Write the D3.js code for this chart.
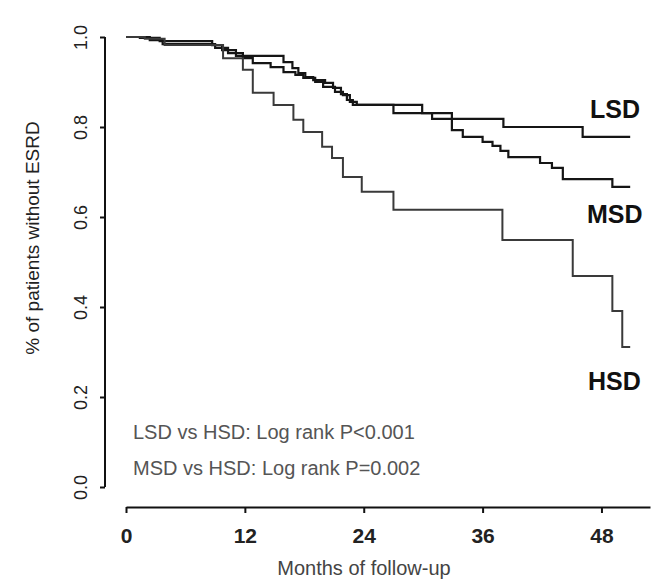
<!DOCTYPE html>
<html>
<head>
<meta charset="utf-8">
<script src="https://cdn.jsdelivr.net/npm/d3@7"></script>
<style>
  html, body { margin: 0; padding: 0; background: #fff; }
  svg { display: block; font-family: "Liberation Sans", Arial, sans-serif; }
</style>
</head>
<body>
<svg id="chart" width="665" height="580"></svg>
<script>
// Kaplan–Meier step data: event times (months) and survival after each step
const lsdTimes = [0, 1.4, 3.4, 8.7, 9.7, 11.1, 15.9, 16.8, 17.4, 18.1, 18.9, 20.1, 20.9, 21.7, 22.3, 22.9, 27.0, 30.9, 38.1, 46.1, 50.9];
const lsdSurv  = [1.0, 0.998, 0.991, 0.982, 0.971, 0.958, 0.944, 0.931, 0.920, 0.911, 0.904, 0.898, 0.887, 0.873, 0.860, 0.849, 0.831, 0.818, 0.800, 0.778, 0.778];

const msdTimes = [0, 2.4, 3.7, 9.0, 10.3, 11.8, 12.8, 14.6, 15.9, 17.1, 17.9, 19.1, 19.9, 21.1, 21.9, 22.6, 23.3, 29.9, 32.9, 34.0, 36.0, 37.0, 37.8, 38.6, 41.8, 43.0, 44.1, 49.1, 50.9];
const msdSurv  = [1.0, 0.993, 0.984, 0.976, 0.964, 0.953, 0.942, 0.933, 0.922, 0.916, 0.909, 0.900, 0.889, 0.878, 0.871, 0.856, 0.849, 0.831, 0.793, 0.778, 0.767, 0.758, 0.747, 0.733, 0.720, 0.709, 0.684, 0.667, 0.667];

const hsdTimes = [0, 1.9, 3.9, 9.8, 11.8, 12.8, 14.9, 16.9, 17.9, 19.8, 20.8, 21.9, 23.8, 27.0, 38.0, 45.1, 49.1, 50.1, 50.9];
const hsdSurv  = [1.0, 0.996, 0.982, 0.953, 0.927, 0.876, 0.849, 0.816, 0.789, 0.756, 0.731, 0.689, 0.656, 0.616, 0.549, 0.469, 0.391, 0.311, 0.311];

const groupNames = ["LSD", "MSD", "HSD"];
const xTicks = [0, 12, 24, 36, 48];
const yTicks = [0, 0.2, 0.4, 0.6, 0.8, 1.0];
const xTitle = "Months of follow-up";
const yTitle = "% of patients without ESRD";
const notes = ["LSD vs HSD: Log rank P<0.001", "MSD vs HSD: Log rank P=0.002"];

const svg = d3.select("#chart");

const x = d3.scaleLinear().domain([0, 52.9]).range([126, 650]);
const y = d3.scaleLinear().domain([0, 1]).range([487, 37]);

// Y axis (kept apart from the x axis, classic survival-plot style)
const yAxis = svg.append("g")
  .attr("transform", "translate(105,0)")
  .call(d3.axisLeft(y).tickValues(yTicks).tickFormat(d3.format(".1f")).tickSize(5).tickSizeOuter(0));
yAxis.select(".domain").attr("stroke", "#111").attr("stroke-width", 2).attr("d", `M0,${y(0)}V${y(1)}`);
yAxis.selectAll(".tick line").attr("stroke", "#111").attr("stroke-width", 2);
yAxis.selectAll(".tick text")
  .attr("x", 0).attr("dy", null)
  .attr("transform", "translate(-18,0) rotate(-90)")
  .attr("text-anchor", "middle")
  .attr("font-size", 18)
  .attr("fill", "#222");

// X axis
const xAxis = svg.append("g")
  .attr("transform", "translate(0,507)")
  .call(d3.axisBottom(x).tickValues(xTicks).tickSize(6).tickSizeOuter(0));
xAxis.select(".domain").attr("stroke", "#111").attr("stroke-width", 2);
xAxis.selectAll(".tick line").attr("stroke", "#111").attr("stroke-width", 2);
xAxis.selectAll(".tick text")
  .attr("y", 36).attr("dy", null)
  .attr("font-size", 21)
  .attr("font-weight", "bold")
  .attr("fill", "#222");

// Axis titles
svg.append("text")
  .attr("x", 364).attr("y", 575)
  .attr("text-anchor", "middle")
  .attr("font-size", 20)
  .attr("fill", "#444")
  .text(xTitle);

svg.append("text")
  .attr("transform", "translate(39,238) rotate(-90)")
  .attr("text-anchor", "middle")
  .attr("font-size", 19)
  .attr("fill", "#222")
  .text(yTitle);

// Survival curves
const line = d3.line()
  .x(d => x(d[0]))
  .y(d => y(d[1]))
  .curve(d3.curveStepAfter);

const curves = [
  { name: groupNames[0], pts: d3.zip(lsdTimes, lsdSurv), color: "#151515", w: 2.2 },
  { name: groupNames[1], pts: d3.zip(msdTimes, msdSurv), color: "#151515", w: 2.2 },
  { name: groupNames[2], pts: d3.zip(hsdTimes, hsdSurv), color: "#3a3a3a", w: 2.0 }
];

svg.append("g").selectAll("path")
  .data(curves)
  .join("path")
  .attr("fill", "none")
  .attr("stroke", d => d.color)
  .attr("stroke-width", d => d.w)
  .attr("d", d => line(d.pts));

// Group labels at the right end of each curve
const labelPos = [[590, 118], [587, 223], [588, 390]];
svg.append("g").selectAll("text")
  .data(groupNames)
  .join("text")
  .attr("x", (d, i) => labelPos[i][0])
  .attr("y", (d, i) => labelPos[i][1])
  .attr("font-size", 25)
  .attr("font-weight", "bold")
  .attr("fill", "#111")
  .text(d => d);

// Log-rank test annotations
svg.append("g").selectAll("text")
  .data(notes)
  .join("text")
  .attr("x", 133)
  .attr("y", (d, i) => 439 + i * 36)
  .attr("font-size", 20)
  .attr("fill", "#555")
  .text(d => d);
</script>
</body>
</html>
